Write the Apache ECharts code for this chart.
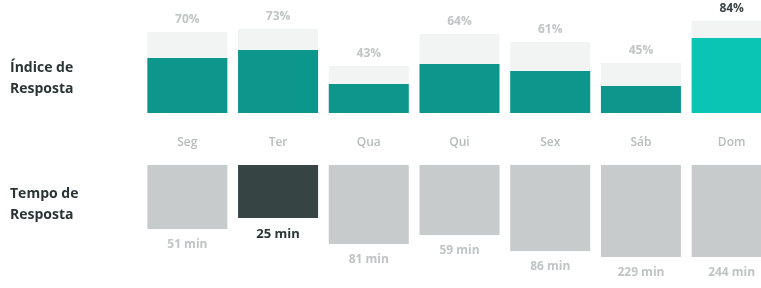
<!DOCTYPE html>
<html>
<head>
<meta charset="utf-8">
<script src="https://cdn.jsdelivr.net/npm/echarts@6/dist/echarts.min.js"></script>
<style>
  html, body { margin: 0; padding: 0; background: #fff; }
  #main { width: 761px; height: 288px; }
</style>
</head>
<body>
<div id="main"></div>
<script>
// dados
var dias = ['Seg', 'Ter', 'Qua', 'Qui', 'Sex', 'Sáb', 'Dom'];
var indiceTotal = [81, 84, 47, 79, 71, 50, 92];       // barra cinza clara
var indiceRespondido = [55, 63, 29, 49, 42, 27, 75];  // barra verde
var indiceLabels = ['70%', '73%', '43%', '64%', '61%', '45%', '84%'];
var tempoAltura = [64, 53, 79, 70, 86, 92, 92];
var tempoLabels = ['51 min', '25 min', '81 min', '59 min', '86 min', '229 min', '244 min'];
var destaqueIndice = 6; // Dom
var destaqueTempo = 1;  // Ter

var FONT = '"Open Sans", Lato, sans-serif';

var myChart = echarts.init(document.getElementById('main'));
var option = {
    animation: false,
    textStyle: { fontFamily: FONT },
    graphic: [
        {
            type: 'text', left: 10, top: 58,
            style: { text: 'Índice de\nResposta', font: 'bold 14px ' + FONT, fill: '#2b3434', lineHeight: 21 }
        },
        {
            type: 'text', left: 10, top: 184,
            style: { text: 'Tempo de\nResposta', font: 'bold 14px ' + FONT, fill: '#2b3434', lineHeight: 21 }
        }
    ],
    grid: [
        { left: 142, width: 635, top: 13, height: 100, outerBoundsMode: 'none' },
        { left: 142, width: 635, top: 165, height: 100, outerBoundsMode: 'none' }
    ],
    xAxis: [
        {
            gridIndex: 0, type: 'category', data: dias,
            axisLine: { show: false }, axisTick: { show: false },
            axisLabel: { color: '#b8bcbc', fontSize: 12, fontWeight: 600, margin: 24 }
        },
        {
            gridIndex: 1, type: 'category', data: dias, show: false
        }
    ],
    yAxis: [
        { gridIndex: 0, type: 'value', min: 0, max: 100, show: false },
        { gridIndex: 1, type: 'value', min: 0, max: 100, inverse: true, show: false }
    ],
    series: [
        {
            type: 'bar', xAxisIndex: 0, yAxisIndex: 0,
            barCategoryGap: '11.8%', barGap: '-100%',
            data: indiceTotal.map(function (v, i) {
                return i === destaqueIndice ? { value: v, label: { color: '#3a4444' } } : v;
            }),
            itemStyle: { color: '#f2f3f3' },
            label: {
                show: true, position: 'top', distance: 6,
                fontSize: 12, fontWeight: 'bold',
                formatter: function (p) { return indiceLabels[p.dataIndex]; },
                color: '#c0c4c4'
            }
        },
        {
            type: 'bar', xAxisIndex: 0, yAxisIndex: 0,
            barCategoryGap: '11.8%', barGap: '-100%',
            data: indiceRespondido.map(function (v, i) {
                return { value: v, itemStyle: { color: i === destaqueIndice ? '#0ac4b4' : '#0c968c' } };
            })
        },
        {
            type: 'bar', xAxisIndex: 1, yAxisIndex: 1,
            barCategoryGap: '11.8%',
            data: tempoAltura.map(function (v, i) {
                var hl = i === destaqueTempo;
                return {
                    value: v,
                    itemStyle: { color: hl ? '#374444' : '#c8cbcc' },
                    label: { color: hl ? '#2b3434' : '#c0c4c4', fontSize: hl ? 13 : 12 }
                };
            }),
            label: {
                show: true, position: 'bottom', distance: 10,
                fontSize: 12, fontWeight: 'bold',
                formatter: function (p) { return tempoLabels[p.dataIndex]; }
            }
        }
    ]
};
myChart.setOption(option);
</script>
</body>
</html>
